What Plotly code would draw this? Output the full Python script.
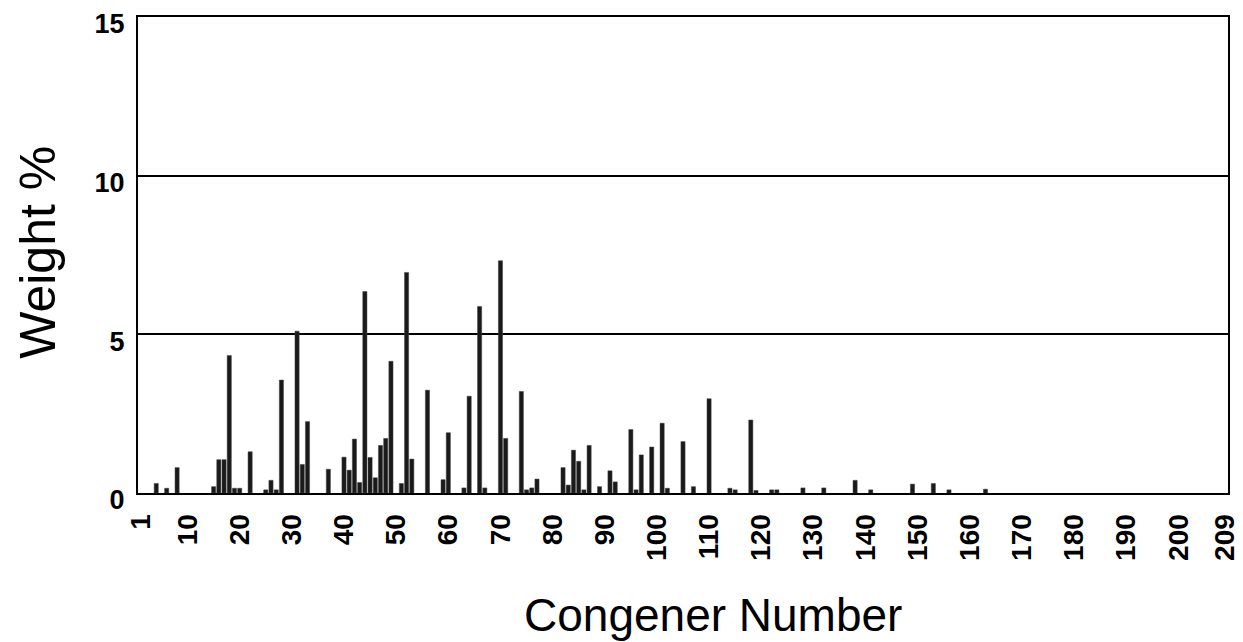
import plotly.graph_objects as go

congeners = [4, 6, 8, 15, 16, 17, 18, 19, 20, 22, 25, 26, 27, 28, 31, 32, 33, 37,
             40, 41, 42, 43, 44, 45, 46, 47, 48, 49, 51, 52, 53, 56, 59, 60, 63, 64,
             66, 67, 70, 71, 74, 75, 76, 77, 82, 83, 84, 85, 86, 87, 89, 91, 92, 95,
             96, 97, 99, 101, 102, 105, 107, 110, 114, 115, 118, 119, 122, 123, 128,
             132, 138, 141, 149, 153, 156, 163]
weights = [0.3, 0.15, 0.8, 0.2, 1.05, 1.05, 4.33, 0.15, 0.15, 1.3, 0.1, 0.4, 0.1, 3.56,
           5.1, 0.9, 2.25, 0.75, 1.13, 0.72, 1.7, 0.33, 6.35, 1.12, 0.48, 1.5, 1.72, 4.15,
           0.3, 6.95, 1.07, 3.24, 0.42, 1.9, 0.16, 3.05, 5.88, 0.16, 7.32, 1.72, 3.2,
           0.1, 0.16, 0.44, 0.8, 0.25, 1.35, 1.0, 0.1, 1.5, 0.2, 0.7, 0.35, 2.0, 0.1,
           1.2, 1.45, 2.2, 0.15, 1.62, 0.2, 2.97, 0.15, 0.1, 2.3, 0.08, 0.1, 0.1, 0.16,
           0.16, 0.4, 0.1, 0.28, 0.3, 0.1, 0.12]

x_ticks = [1, 10, 20, 30, 40, 50, 60, 70, 80, 90, 100, 110, 120, 130, 140, 150,
           160, 170, 180, 190, 200, 209]
y_ticks = [0, 5, 10, 15]

fig = go.Figure(go.Bar(
    x=congeners, y=weights, width=0.8,
    marker=dict(color="#1a1a1a", line=dict(color="#444444", width=0.5)),
))

font_family = "Liberation Sans, Arial, sans-serif"
fig.update_layout(
    width=1243, height=642,
    margin=dict(l=130, r=23, t=9, b=157),
    paper_bgcolor="white", plot_bgcolor="white",
    showlegend=False,
    font=dict(family=font_family, color="black"),
    annotations=[
        dict(text="Congener Number", xref="paper", yref="paper", x=0.5275, y=-0.256,
             xanchor="center", yanchor="middle", showarrow=False,
             font=dict(size=46, family=font_family, color="black")),
        dict(text="Weight %", xref="paper", yref="paper", x=-0.092, y=0.506,
             xanchor="center", yanchor="middle", showarrow=False, textangle=-90,
             font=dict(size=50, family=font_family, color="black")),
    ],
)
fig.update_xaxes(
    range=[0.5, 209.5], tickmode="array", tickvals=x_ticks,
    ticktext=[f"<b>{t}</b>" for t in x_ticks], tickangle=-90,
    tickfont=dict(size=28, family=font_family, color="black"),
    showgrid=False, zeroline=False, showline=True, linecolor="black", linewidth=2,
    mirror=True, ticks="", ticklabelstandoff=8, automargin=False,
    ticklabeloverflow="allow",
)
fig.update_yaxes(
    range=[0, 15], tickmode="array", tickvals=y_ticks,
    ticktext=[f"<b>{t}</b>" for t in y_ticks],
    tickfont=dict(size=27, family=font_family, color="black"),
    showgrid=True, gridcolor="black", gridwidth=2, zeroline=False,
    showline=True, linecolor="black", linewidth=2, mirror=True, ticks="",
    ticklabelstandoff=6, ticklabelshift=7, automargin=False,
    ticklabeloverflow="allow",
)

fig.write_html("out.html")
